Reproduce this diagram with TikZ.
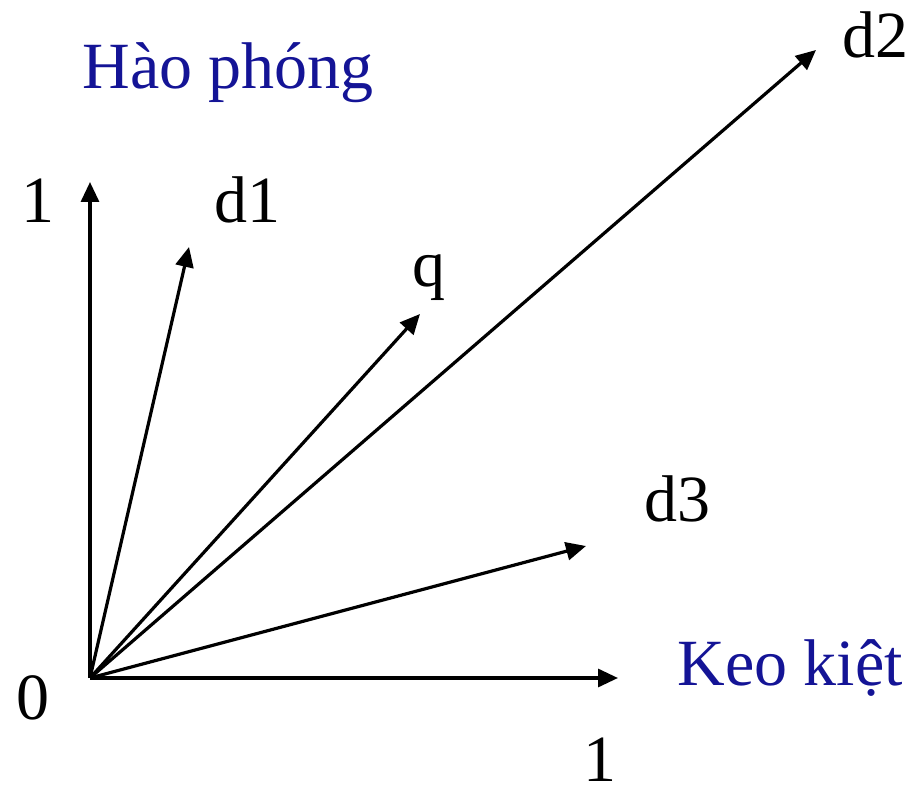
\documentclass[tikz,border=0pt]{standalone}
\usepackage{fontspec}
\setmainfont{Liberation Serif}
\usetikzlibrary{arrows.meta}
\definecolor{cAxisName}{HTML}{141496}
\tikzset{
  vec/.style={-{Triangle[length=10pt,width=9pt]}, line width=1.6pt, black},
  lbl/.style={anchor=base west, inner sep=0pt, font=\fontsize{33}{36}\selectfont},
  axname/.style={lbl, text=cAxisName},
}

\begin{document}
\begin{tikzpicture}[x=0.5pt, y=-0.5pt]
    \useasboundingbox (0,0) rectangle (917,786);

    % origin and vector tips
    \coordinate (O)   at (90,678);
    \coordinate (ey)  at (90,182);
    \coordinate (ex)  at (618,678);
    \coordinate (t1)  at (189,247);
    \coordinate (tq)  at (420,314);
    \coordinate (t2)  at (816,50);
    \coordinate (t3)  at (586,546);

    % axes
    \draw[vec] (O) -- (ey);
    \draw[vec] (O) -- (ex);

    % document and query vectors
    \draw[vec] (O) -- (t1);
    \draw[vec] (O) -- (tq);
    \draw[vec] (O) -- (t2);
    \draw[vec] (O) -- (t3);

    % labels
    \node[axname] (hp)  at (82,89)   {Hào phóng};
    \node[axname] (kk)  at (677,685) {Keo kiệt};
    \node[lbl]    (y1)  at (21,223)  {1};
    \node[lbl]    (x1)  at (583,781) {1};
    \node[lbl]    (o)   at (16,719)  {0};
    \node[lbl]    (d1)  at (214,223) {d1};
    \node[lbl]    (q)   at (412,287) {q};
    \node[lbl]    (d2)  at (842,58)  {d2};
    \node[lbl]    (d3)  at (644,522) {d3};
  \end{tikzpicture}
\end{document}
